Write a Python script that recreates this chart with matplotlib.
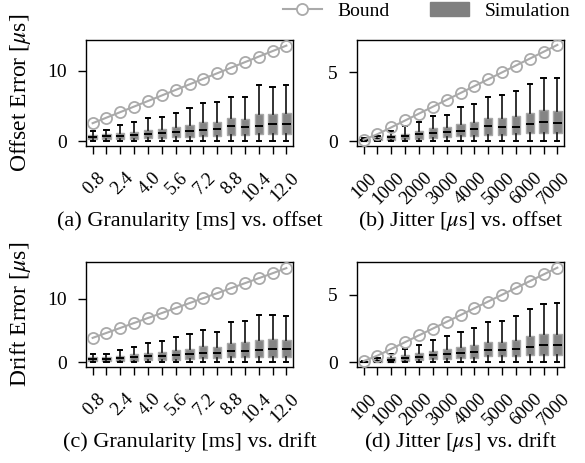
import matplotlib
matplotlib.use("Agg")
import matplotlib.pyplot as plt
from matplotlib.lines import Line2D
from matplotlib.patches import Patch
from matplotlib.transforms import ScaledTranslation

plt.rcParams['font.family'] = ['Liberation Serif', 'DejaVu Serif']
plt.rcParams['mathtext.fontset'] = 'stix'

# ---- data ----
granularity = ["0.8", "1.6", "2.4", "3.2", "4.0", "4.8", "5.6", "6.4", "7.2", "8.0",
               "8.8", "9.6", "10.4", "11.2", "12.0"]
jitter = ["100", "500", "1000", "1500", "2000", "2500", "3000", "3500", "4000", "4500",
          "5000", "5500", "6000", "6500", "7000"]

# (a) granularity vs offset
a_bound = [2.55, 3.34, 4.13, 4.92, 5.71, 6.50, 7.29, 8.08, 8.87, 9.66, 10.45, 11.24, 12.03, 12.82, 13.6]
a_med = [0.60, 0.66, 0.76, 0.85, 1.04, 1.09, 1.23, 1.37, 1.52, 1.66, 2.13, 1.99, 2.13, 2.37, 2.37]
a_q1 = [0.24, 0.30, 0.24, 0.28, 0.38, 0.43, 0.52, 0.57, 0.66, 0.71, 0.85, 0.85, 1.00, 1.04, 1.04]
a_q3 = [0.85, 1.00, 1.10, 1.33, 1.61, 1.71, 2.04, 2.32, 2.65, 2.75, 3.22, 3.17, 3.79, 3.88, 3.93]
a_lo = [0.0] * 15
a_hi = [1.42, 1.57, 2.23, 2.70, 3.27, 3.50, 4.03, 4.69, 5.36, 5.55, 6.26, 6.31, 7.92, 7.73, 7.96]

# (b) jitter vs offset
b_bound = [0.1, 0.5, 1.0, 1.5, 2.0, 2.5, 3.0, 3.5, 4.0, 4.5, 5.0, 5.5, 6.0, 6.5, 7.0]
b_med = [0.08, 0.17, 0.29, 0.36, 0.51, 0.56, 0.66, 0.73, 0.88, 1.07, 1.00, 1.05, 1.24, 1.41, 1.31]
b_q1 = [0.02, 0.05, 0.10, 0.12, 0.17, 0.24, 0.29, 0.34, 0.36, 0.46, 0.46, 0.51, 0.61, 0.61, 0.61]
b_q3 = [0.14, 0.27, 0.44, 0.53, 0.70, 0.92, 1.02, 1.21, 1.36, 1.65, 1.65, 1.82, 2.04, 2.23, 2.21]
b_lo = [0.0] * 15
b_hi = [0.20, 0.39, 0.70, 1.07, 1.39, 1.86, 1.92, 2.46, 2.72, 3.23, 3.33, 3.64, 4.13, 4.57, 4.57]

# (c) granularity vs drift
c_bound = [3.85, 4.63, 5.41, 6.19, 6.97, 7.75, 8.53, 9.31, 10.09, 10.87, 11.65, 12.43, 13.21, 13.99, 14.8]
c_med = [0.47, 0.53, 0.63, 0.84, 0.94, 1.05, 1.20, 1.36, 1.52, 1.52, 1.84, 1.84, 2.00, 2.10, 2.10]
c_q1 = [0.16, 0.16, 0.21, 0.26, 0.32, 0.37, 0.42, 0.47, 0.68, 0.63, 0.79, 0.79, 0.89, 0.89, 0.89]
c_q3 = [0.78, 0.84, 1.00, 1.26, 1.47, 1.63, 1.89, 2.15, 2.62, 2.46, 3.09, 3.20, 3.51, 3.67, 3.51]
c_lo = [0.0] * 15
c_hi = [1.36, 1.36, 1.89, 2.46, 2.98, 3.30, 3.93, 4.44, 5.03, 4.80, 6.39, 6.44, 7.38, 7.38, 7.22]

# (d) jitter vs drift
d_bound = [0.1, 0.5, 1.0, 1.5, 2.0, 2.5, 3.0, 3.5, 4.0, 4.5, 5.0, 5.5, 6.0, 6.5, 7.0]
d_med = [0.05, 0.12, 0.20, 0.32, 0.42, 0.57, 0.64, 0.67, 0.79, 0.94, 0.94, 0.99, 1.14, 1.31, 1.31]
d_q1 = [0.00, 0.03, 0.05, 0.10, 0.15, 0.22, 0.25, 0.30, 0.35, 0.45, 0.45, 0.47, 0.55, 0.55, 0.57]
d_q3 = [0.12, 0.22, 0.37, 0.52, 0.67, 0.86, 0.99, 1.16, 1.31, 1.53, 1.51, 1.68, 1.95, 2.10, 2.12]
d_lo = [0.0] * 15
d_hi = [0.14, 0.32, 0.62, 0.96, 1.28, 1.65, 1.97, 2.27, 2.54, 2.98, 3.06, 3.40, 3.97, 4.31, 4.36]

panels = [
    (granularity, a_bound, a_med, a_q1, a_q3, a_lo, a_hi, "Offset Error [$\\mu$s]",
     "(a) Granularity [ms] vs. offset", [0, 10], (-0.7, 14.4)),
    (jitter, b_bound, b_med, b_q1, b_q3, b_lo, b_hi, None,
     "(b) Jitter [$\\mu$s] vs. offset", [0, 5], (-0.36, 7.36)),
    (granularity, c_bound, c_med, c_q1, c_q3, c_lo, c_hi, "Drift Error [$\\mu$s]",
     "(c) Granularity [ms] vs. drift", [0, 10], (-0.72, 15.76)),
    (jitter, d_bound, d_med, d_q1, d_q3, d_lo, d_hi, None,
     "(d) Jitter [$\\mu$s] vs. drift", [0, 5], (-0.34, 7.42)),
]

fig = plt.figure(figsize=(5.85, 4.63), dpi=100)
W, H = 585.0, 463.0
rects = [
    (86, 40, 293, 146),
    (357, 40, 564, 146),
    (86, 262, 293, 367),
    (357, 262, 564, 367),
]

box_fill = "#858585"
box_edge = "#a8a8a8"
bound_col = "#aaaaaa"
XTICK_FS = 13.5
YTICK_FS = 14
CAP_FS = 16
YLAB_FS = 17

shift = ScaledTranslation(4 / 100, 0, fig.dpi_scale_trans)

for (labels, bound, med, q1, q3, lo, hi, ylab, cap, yt, ylim), (l, t, r, b) in zip(panels, rects):
    ax = fig.add_axes([l / W, 1 - b / H, (r - l) / W, (b - t) / H])
    pos = list(range(len(labels)))
    stats = [dict(med=m, q1=a, q3=c, whislo=w0, whishi=w1, fliers=[])
             for m, a, c, w0, w1 in zip(med, q1, q3, lo, hi)]
    ax.bxp(stats, positions=pos, widths=0.6, patch_artist=True, showfliers=False,
           boxprops=dict(facecolor=box_fill, edgecolor=box_edge, linewidth=1.0),
           medianprops=dict(color="black", linewidth=1.4),
           whiskerprops=dict(color="#222222", linewidth=1.3),
           capprops=dict(color="black", linewidth=1.4),
           capwidths=0.3)
    ax.plot(pos, bound, color=bound_col, linewidth=1.5, marker='o', markersize=8,
            markerfacecolor='none', markeredgecolor=bound_col, markeredgewidth=1.3, zorder=5)
    ax.set_xlim(-0.48, len(labels) - 0.52)
    ax.set_ylim(*ylim)
    ax.set_yticks(yt)
    ax.tick_params(axis='both', direction='out', length=6, width=1.0)
    ax.tick_params(axis='y', pad=8, labelsize=YTICK_FS)
    ax.tick_params(axis='x', pad=11, labelsize=XTICK_FS)
    ax.set_xticks(pos)
    ax.set_xticklabels([s if i % 2 == 0 else "" for i, s in enumerate(labels)],
                       rotation=45, ha='right', va='top', rotation_mode='anchor', fontsize=XTICK_FS)
    for lab in ax.get_xticklabels():
        lab.set_transform(lab.get_transform() + shift)
    for sp in ax.spines.values():
        sp.set_linewidth(1.0)
    if ylab:
        ax.set_ylabel(ylab, fontsize=YLAB_FS)
        ax.yaxis.set_label_coords(-53 / 207, 0.5)
    ax.text(0.5, -0.71, cap, transform=ax.transAxes, ha='center', va='center', fontsize=CAP_FS)

handles = [Line2D([0], [0], color=bound_col, linewidth=1.5, marker='o', markersize=8,
                  markerfacecolor='white', markeredgecolor=bound_col, markeredgewidth=1.3),
           Patch(facecolor="#808080", edgecolor="#808080")]
fig.legend(handles, ["Bound", "Simulation"], ncol=2, frameon=False, fontsize=14,
           loc='center right', bbox_to_anchor=(0.975, 1 - 11 / H),
           handlelength=2.0, handletextpad=0.8, columnspacing=2.1, borderaxespad=0,
           borderpad=0)

fig.savefig("out.png", dpi=100)
